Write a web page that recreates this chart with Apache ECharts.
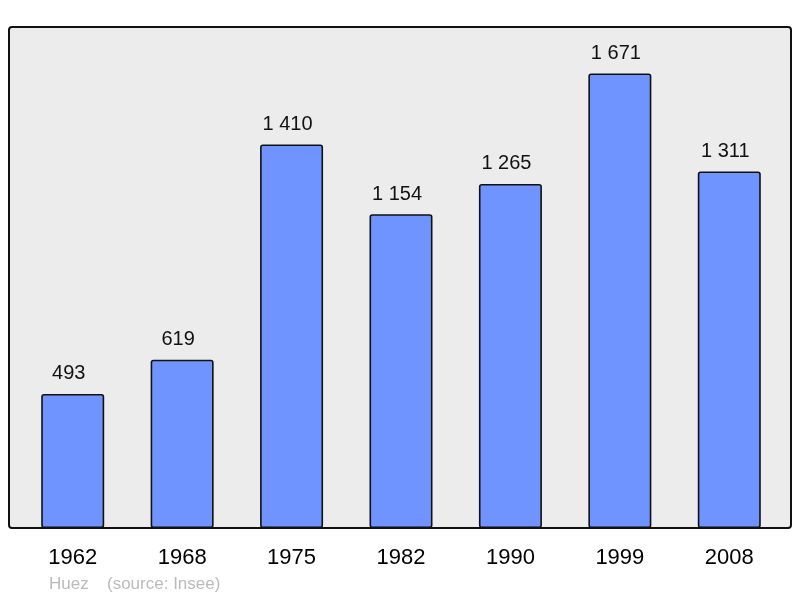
<!DOCTYPE html>
<html><head><meta charset="utf-8">
<script src="https://cdn.jsdelivr.net/npm/echarts@6/dist/echarts.min.js"></script>
<style>html,body{margin:0;padding:0;background:#fff}#c{width:800px;height:598px}</style>
</head><body><div id="c"></div>
<script>
const years = ['1962','1968','1975','1982','1990','1999','2008'];
const population = [493, 619, 1410, 1154, 1265, 1671, 1311];
const title = 'Huez';
const source = '(source: Insee)';

function fmt(v){ return String(v).replace(/\B(?=(\d{3})+(?!\d))/g, ' '); }

const chart = echarts.init(document.getElementById('c'), null, {renderer:'canvas'});
chart.setOption({
  animation:false,
  backgroundColor:'#ffffff',
  graphic:[
    {type:'rect', z:-10, shape:{x:9,y:27,width:782,height:501,r:3},
     style:{fill:'#ececec', stroke:'#111', lineWidth:2}},
    {type:'text', left:49, top:576, style:{text:title, fill:'#bbbbbb', font:'17px "Liberation Sans", Arial, sans-serif'}},
    {type:'text', left:107, top:576, style:{text:source, fill:'#bbbbbb', font:'17px "Liberation Sans", Arial, sans-serif'}}
  ],
  grid:{left:18, top:27, width:766, height:501, containLabel:false},
  xAxis:{type:'category', data:years,
    axisLine:{show:false}, axisTick:{show:false},
    axisLabel:{color:'#000', fontSize:22, fontFamily:'"Liberation Sans", Arial, sans-serif', margin:19}},
  yAxis:{type:'value', min:0, max:1842, show:false, splitLine:{show:false}},
  series:[{type:'bar', data:population, barWidth:63,
    itemStyle:{color:'#7094ff', borderColor:'#111', borderWidth:1.6, borderRadius:2},
    label:{show:true, position:'top', distance:10, offset:[-4,0], color:'#111', fontSize:20,
      fontFamily:'"Liberation Sans", Arial, sans-serif', formatter:p=>fmt(p.value)}}]
});
</script></body></html>
